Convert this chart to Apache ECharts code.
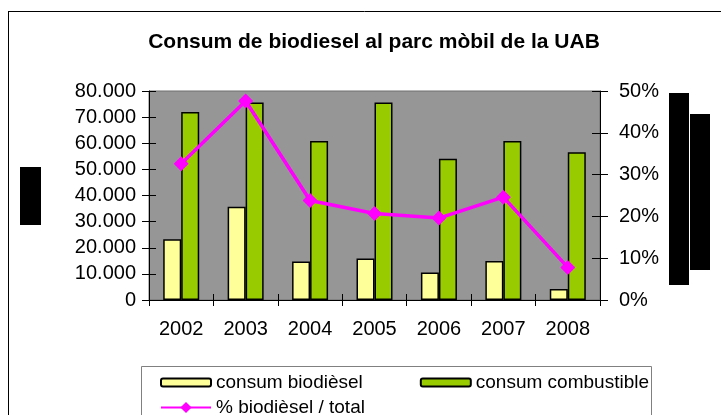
<!DOCTYPE html>
<html>
<head>
<meta charset="utf-8">
<script src="https://cdn.jsdelivr.net/npm/echarts@6/dist/echarts.min.js"></script>
<style>
  html, body { margin: 0; padding: 0; background: #fff; }
  #chart { width: 721px; height: 415px; }
</style>
</head>
<body>
<div id="chart"></div>
<script>
// dades llegides del gràfic
const years = ['2002', '2003', '2004', '2005', '2006', '2007', '2008']
const biodiesel = [23300, 35700, 14700, 15900, 10500, 14900, 4200]
const combustible = [72000, 75600, 60900, 75600, 54100, 60900, 56600]
const percent = [32.6, 47.6, 23.8, 20.7, 19.6, 24.6, 7.8]
const seriesNames = ['consum biodièsel', 'consum combustible', '% biodièsel / total']

const font = 'Liberation Sans, Arial, sans-serif'

function dotThousands(v) {
  return String(v).replace(/\B(?=(\d{3})+(?!\d))/g, '.')
}

const chart = echarts.init(document.getElementById('chart'))
chart.setOption({
  animation: false,
  backgroundColor: '#fff',
  title: {
    text: 'Consum de biodiesel al parc mòbil de la UAB',
    left: 369,
    top: 27,
    textAlign: 'center',
    textStyle: { fontFamily: font, fontSize: 21, fontWeight: 'bold', color: '#000' }
  },
  legend: [
    {
      data: [seriesNames[0], seriesNames[1]],
      left: 155,
      top: 368,
      itemWidth: 50,
      itemHeight: 8,
      itemGap: 57,
      textStyle: { fontFamily: font, fontSize: 19, color: '#000' }
    },
    {
      data: [seriesNames[2]],
      left: 155,
      top: 393,
      itemWidth: 50,
      itemHeight: 14,
      textStyle: { fontFamily: font, fontSize: 19, color: '#000' }
    }
  ],
  grid: {
    left: 149,
    right: 121,
    top: 91,
    bottom: 115,
    show: true,
    backgroundColor: '#969696',
    borderColor: '#6e6e6e',
    borderWidth: 1
  },
  xAxis: [
    {
      type: 'category',
      data: years,
      axisLine: { lineStyle: { color: '#000', width: 1 } },
      axisTick: { show: true, length: 6, lineStyle: { color: '#000' } },
      axisLabel: { fontFamily: font, fontSize: 20, color: '#000', margin: 19 }
    },
    {
      // marques cap endins (creuades)
      type: 'category',
      data: years,
      position: 'bottom',
      axisLine: { show: false },
      axisTick: { show: true, inside: true, length: 6, lineStyle: { color: '#000' } },
      axisLabel: { show: false }
    }
  ],
  yAxis: [
    {
      type: 'value',
      min: 0,
      max: 80000,
      interval: 10000,
      position: 'left',
      splitLine: { show: false },
      axisLine: { show: true, lineStyle: { color: '#000' } },
      axisTick: { show: true, length: 7, lineStyle: { color: '#000' } },
      axisLabel: {
        fontFamily: font, fontSize: 20, color: '#000', margin: 13,
        formatter: dotThousands
      }
    },
    {
      type: 'value',
      min: 0,
      max: 50,
      interval: 10,
      position: 'right',
      splitLine: { show: false },
      axisLine: { show: true, lineStyle: { color: '#000' } },
      axisTick: { show: true, length: 8, lineStyle: { color: '#000' } },
      axisLabel: { fontFamily: font, fontSize: 20, color: '#000', margin: 19, formatter: '{value}%' }
    },
    {
      type: 'value',
      min: 0,
      max: 80000,
      interval: 10000,
      position: 'left',
      splitLine: { show: false },
      axisLine: { show: false },
      axisTick: { show: true, inside: true, length: 7, lineStyle: { color: '#000' } },
      axisLabel: { show: false }
    },
    {
      type: 'value',
      min: 0,
      max: 50,
      interval: 10,
      position: 'right',
      splitLine: { show: false },
      axisLine: { show: false },
      axisTick: { show: true, inside: true, length: 8, lineStyle: { color: '#000' } },
      axisLabel: { show: false }
    }
  ],
  series: [
    {
      name: seriesNames[0],
      type: 'bar',
      data: biodiesel,
      barWidth: 18,
      barGap: '0%',
      itemStyle: { color: '#FFFF99', borderColor: '#000', borderWidth: 1.5 }
    },
    {
      name: seriesNames[1],
      type: 'bar',
      data: combustible,
      barWidth: 18,
      barGap: '0%',
      itemStyle: { color: '#99CC00', borderColor: '#000', borderWidth: 1.5 }
    },
    {
      name: seriesNames[2],
      type: 'line',
      yAxisIndex: 1,
      data: percent,
      symbol: 'diamond',
      symbolSize: 15,
      lineStyle: { color: '#FF00FF', width: 3.5 },
      itemStyle: { color: '#FF00FF' }
    }
  ],
  graphic: [
    // marc del gràfic
    { type: 'line', shape: { x1: 8, y1: 11.5, x2: 721, y2: 11.5 }, style: { stroke: '#000', lineWidth: 1 } },
    { type: 'line', shape: { x1: 8.5, y1: 11, x2: 8.5, y2: 415 }, style: { stroke: '#000', lineWidth: 1 } },
    // caixa de la llegenda
    { type: 'rect', shape: { x: 141.5, y: 366.5, width: 510, height: 60 }, style: { fill: 'none', stroke: '#808080', lineWidth: 1 } },
    // rectangles negres (títols d'eix tapats)
    { type: 'rect', shape: { x: 20, y: 167, width: 21, height: 58 }, style: { fill: '#000' } },
    { type: 'rect', shape: { x: 669, y: 93, width: 20, height: 192 }, style: { fill: '#000' } },
    { type: 'rect', shape: { x: 690, y: 114, width: 20, height: 156 }, style: { fill: '#000' } }
  ]
})
</script>
</body>
</html>
